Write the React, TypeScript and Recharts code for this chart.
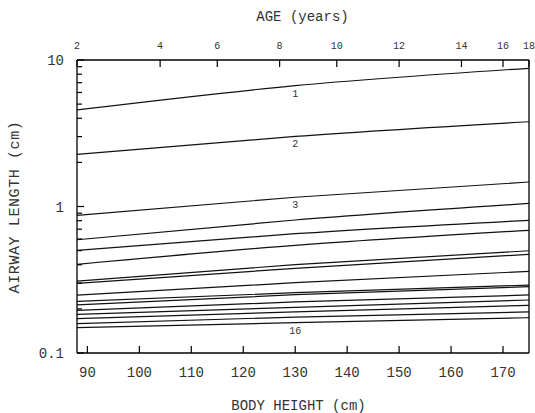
import { JSX } from 'react'
import { LineChart, Line, XAxis, YAxis, ReferenceLine } from 'recharts'

// body height (cm) where the curves were read
const heights = [88, 130, 175]

// airway length (cm) per generation, at the heights above
const gen1 = [4.56, 6.68, 8.78]
const gen2 = [2.27, 3.01, 3.79]
const gen3 = [0.871, 1.156, 1.47]
const gen4 = [0.593, 0.809, 1.05]
const gen5 = [0.502, 0.652, 0.805]
const gen6 = [0.403, 0.543, 0.688]
const gen7 = [0.309, 0.401, 0.499]
const gen8 = [0.299, 0.378, 0.472]
const gen9 = [0.248, 0.302, 0.361]
const gen10 = [0.225, 0.258, 0.291]
const gen11 = [0.213, 0.25, 0.2836]
const gen12 = [0.1956, 0.223, 0.249]
const gen13 = [0.1837, 0.205, 0.23]
const gen14 = [0.1715, 0.191, 0.2117]
const gen15 = [0.1585, 0.176, 0.1906]
const gen16 = [0.149, 0.161, 0.1742]

const series = [gen1, gen2, gen3, gen4, gen5, gen6, gen7, gen8, gen9, gen10, gen11, gen12, gen13, gen14, gen15, gen16]
const genNames = series.map((_, i) => String(i + 1))
const labelledGens = ['1', '2', '3', '16']

// axes
const heightTicks = [90, 100, 110, 120, 130, 140, 150, 160, 170]
const ageLabels = [2, 4, 6, 8, 10, 12, 14, 16, 18]
const ageHeights = [88, 104, 115, 127, 138, 150, 162, 170, 175]
const lengthTicks = [0.1, 0.2, 0.3, 0.4, 0.5, 0.6, 0.7, 0.8, 0.9, 1, 2, 3, 4, 5, 6, 7, 8, 9, 10]
const lengthLabels = [0.1, 1, 10]

const rows = heights.map((h, i) => {
  const row: Record<string, number> = { h }
  genNames.forEach((g, j) => {
    row['g' + g] = series[j][i]
  })
  return row
})

const FONT = '"Liberation Mono", "DejaVu Sans Mono", monospace'

function BottomTick({ x, y, payload }: any): JSX.Element {
  return (
    <g>
      <line x1={x} x2={x} y1={y} y2={y - 7} stroke="#000" strokeWidth={1.2} />
      <text x={x} y={y + 24} textAnchor="middle" fontFamily={FONT} fontSize={14} fill="#333">
        {payload.value}
      </text>
    </g>
  )
}

function TopTick({ x, y, payload, index }: any): JSX.Element {
  return (
    <g>
      <line x1={x} x2={x} y1={y} y2={y + 7} stroke="#000" strokeWidth={1.2} />
      <text x={x} y={y - 11} textAnchor="middle" fontFamily={FONT} fontSize={10} fill="#333">
        {ageLabels[index] ?? payload.value}
      </text>
    </g>
  )
}

function LeftTick({ x, y, payload }: any): JSX.Element {
  const major = lengthLabels.includes(payload.value)
  return (
    <g>
      <line x1={x} x2={x + (major ? 7 : 5)} y1={y} y2={y} stroke="#000" strokeWidth={1.2} />
      {major && (
        <text x={x - 13} y={y + 5} textAnchor="end" fontFamily={FONT} fontSize={14} fill="#333">
          {payload.value}
        </text>
      )}
    </g>
  )
}

export default function App(): JSX.Element {
  return (
    <div style={{ position: 'relative', width: 535, height: 413, background: '#fff' }}>
      <style>{'body{margin:0}'}</style>
      <LineChart width={535} height={413} data={rows} margin={{ top: 30, right: 6, bottom: 20, left: 7 }}>
        <XAxis
          dataKey="h"
          type="number"
          domain={[88, 175]}
          ticks={heightTicks}
          allowDataOverflow
          height={40}
          tickSize={0}
          tickMargin={0}
          tickLine={false}
          tick={<BottomTick />}
          axisLine={{ stroke: '#000', strokeWidth: 1.3 }}
          interval={0}
        />
        <XAxis
          xAxisId="top"
          orientation="top"
          dataKey="h"
          type="number"
          domain={[88, 175]}
          ticks={ageHeights}
          allowDataOverflow
          height={30}
          tickSize={0}
          tickMargin={0}
          tickLine={false}
          tick={<TopTick />}
          axisLine={{ stroke: '#000', strokeWidth: 1.3 }}
          interval={0}
        />
        <YAxis
          scale="log"
          type="number"
          domain={[0.1, 10]}
          ticks={lengthTicks}
          allowDataOverflow
          width={70}
          tickSize={0}
          tickMargin={0}
          tickLine={false}
          tick={<LeftTick />}
          axisLine={{ stroke: '#000', strokeWidth: 1.3 }}
          interval={0}
        />
        <ReferenceLine x={175} stroke="#000" strokeWidth={1.3} />
        {genNames.map((g) => (
          <Line
            key={g}
            dataKey={'g' + g}
            type="monotone"
            stroke="#111"
            strokeWidth={1.2}
            dot={false}
            isAnimationActive={false}
            label={(p: any) =>
              p.index === 1 && labelledGens.includes(g) ? (
                <text
                  key={'lbl' + g}
                  x={p.x}
                  y={p.y + 11}
                  textAnchor="middle"
                  fontFamily={FONT}
                  fontSize={10}
                  fill="#333"
                >
                  {g}
                </text>
              ) : (
                <g key={'lbl' + g + p.index} />
              )
            }
          />
        ))}
      </LineChart>

      {/* axis titles */}
      <div
        style={{
          position: 'absolute',
          left: 0,
          width: 535,
          top: 9,
          textAlign: 'center',
          paddingLeft: 70,
          boxSizing: 'border-box',
          fontFamily: FONT,
          fontSize: 14,
          color: '#333'
        }}
      >
        AGE (years)
      </div>
      <div
        style={{
          position: 'absolute',
          left: 0,
          width: 535,
          top: 398,
          textAlign: 'center',
          paddingLeft: 62,
          boxSizing: 'border-box',
          fontFamily: FONT,
          fontSize: 14,
          color: '#333'
        }}
      >
        BODY HEIGHT (cm)
      </div>
      <div
        style={{
          position: 'absolute',
          left: 15,
          top: 207,
          transform: 'translate(-50%, -50%) rotate(-90deg)',
          whiteSpace: 'nowrap',
          fontFamily: FONT,
          fontSize: 15,
          letterSpacing: 0.6,
          color: '#333'
        }}
      >
        AIRWAY LENGTH (cm)
      </div>
    </div>
  )
}
